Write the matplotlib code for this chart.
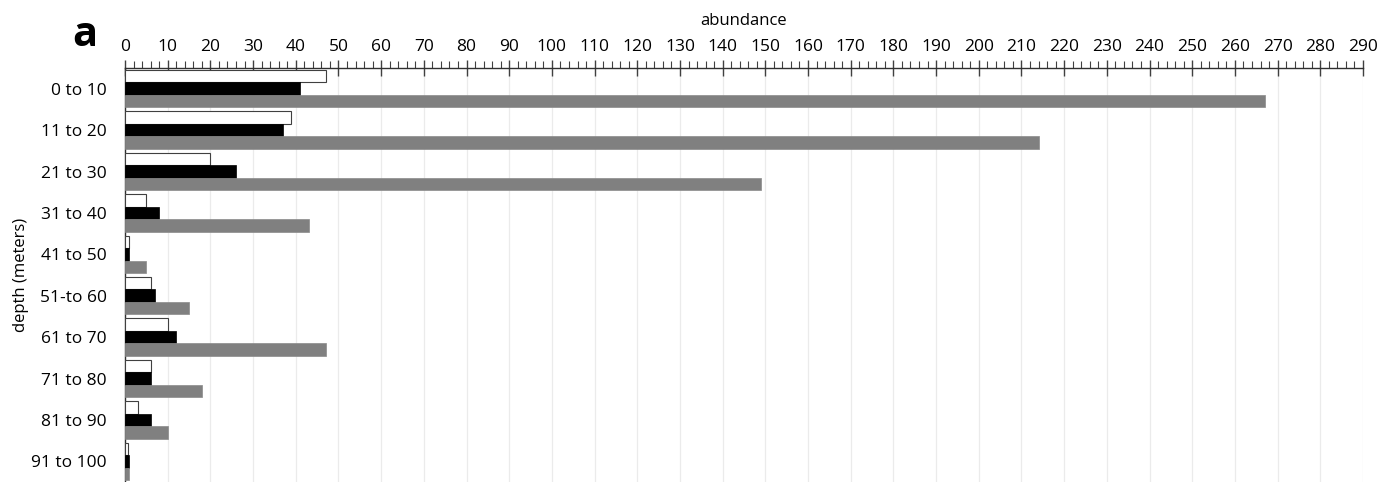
import numpy as np
import matplotlib.pyplot as plt
from matplotlib.ticker import MultipleLocator

plt.rcParams['font.family'] = ['Open Sans', 'DejaVu Sans']

# depth classes (meters)
depths = ['0 to 10', '11 to 20', '21 to 30', '31 to 40', '41 to 50',
          '51-to 60', '61 to 70', '71 to 80', '81 to 90', '91 to 100']

# abundance of the three series (white, black, grey bars)
white_vals = [47, 39, 20, 5, 1, 6, 10, 6, 3, 0.7]
black_vals = [41, 37, 26, 8, 1, 7, 12, 6, 6, 1]
grey_vals = [267, 214, 149, 43, 5, 15, 47, 18, 10, 1]

fig = plt.figure(figsize=(13.96, 4.82), dpi=100)
ax = fig.add_axes([125 / 1396, 0.0, (1363 - 125) / 1396, (482 - 68) / 482])

y = np.arange(len(depths))
h = 0.3
ax.barh(y - h, white_vals, height=h, color='white', edgecolor='#404040', linewidth=0.8, zorder=3)
ax.barh(y, black_vals, height=h, color='black', edgecolor='black', linewidth=0.5, zorder=3)
ax.barh(y + h, grey_vals, height=h, color='#808080', edgecolor='#8a8a8a', linewidth=0.5, zorder=3)

ax.set_xlim(0, 290)
ax.set_ylim(len(depths) - 0.5, -0.5)
ax.set_yticks(y)
ax.set_yticklabels(depths, fontsize=12.5)
ax.tick_params(axis='y', length=0, pad=13)

ax.xaxis.set_major_locator(MultipleLocator(10))
ax.xaxis.set_minor_locator(MultipleLocator(2))
ax.xaxis.tick_top()
ax.xaxis.set_label_position('top')
ax.tick_params(axis='x', which='major', direction='inout', length=11, width=1,
               color='#404040', labelsize=12.5, pad=4)
ax.tick_params(axis='x', which='minor', direction='out', length=5, width=0.8, color='#404040')
ax.set_xlabel('abundance', fontsize=12, labelpad=10)
ax.set_ylabel('depth (meters)', fontsize=12, labelpad=2)

ax.grid(True, axis='x', which='major', color='#ebebeb', linewidth=0.9, zorder=0)
for s in ['right', 'bottom']:
    ax.spines[s].set_visible(False)
for s in ['left', 'top']:
    ax.spines[s].set_color('#303030')
    ax.spines[s].set_linewidth(1)

fig.text(85 / 1396, 1 - 35 / 482, 'a', fontsize=30, fontweight='bold', ha='center', va='center')

plt.savefig('out.png', dpi=100)
